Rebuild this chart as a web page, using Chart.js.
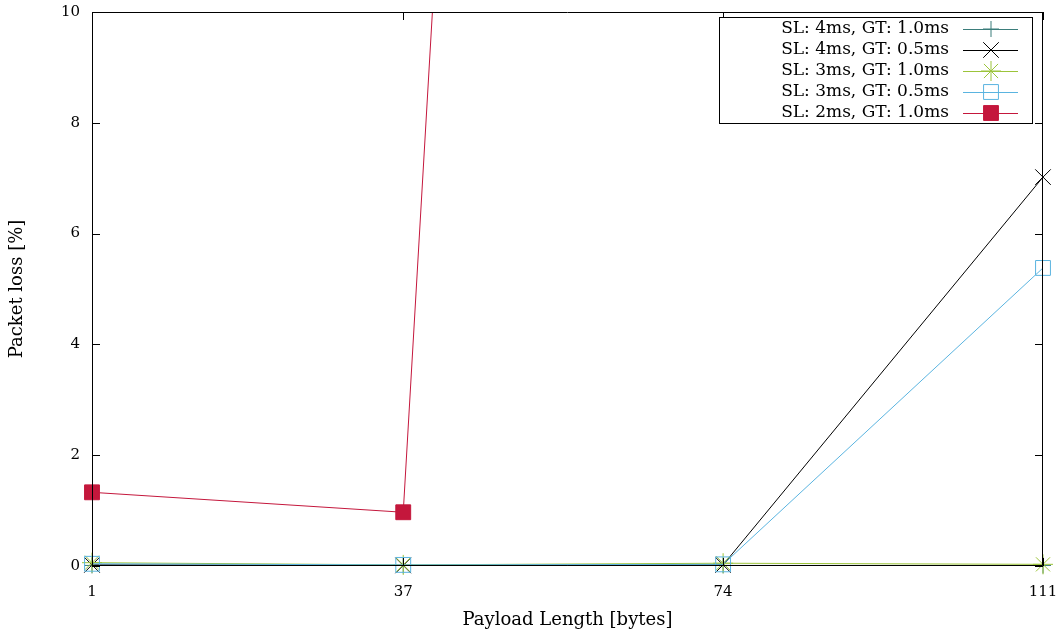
<!DOCTYPE html>
<html>
<head>
<meta charset="utf-8">
<script src="https://cdn.jsdelivr.net/npm/chart.js@4/dist/chart.umd.min.js"></script>
<style>
  html, body { margin: 0; padding: 0; background: #fff; }
  #wrap { width: 1062px; height: 634px; }
</style>
</head>
<body>
<div id="wrap"><canvas id="lossChart" width="1062" height="634"></canvas></div>
<script>
// payload lengths on the x axis
const payload = [1, 37, 74, 111];
const yTicks = [0, 2, 4, 6, 8, 10];

// packet loss [%] per configuration
const sl4gt10 = [0.01, 0.01, 0.01, 0.01];
const sl4gt05 = [0.02, 0.01, 0.02, 7.02];
const sl3gt10 = [0.06, 0.02, 0.05, 0.03];
const sl3gt05 = [0.04, 0.02, 0.03, 5.38];
const sl2gt10 = [1.33, 0.97, 100, 100];

const labels = [
    'SL: 4ms, GT: 1.0ms',
    'SL: 4ms, GT: 0.5ms',
    'SL: 3ms, GT: 1.0ms',
    'SL: 3ms, GT: 0.5ms',
    'SL: 2ms, GT: 1.0ms'
];

const serif = '"DejaVu Serif", "Liberation Serif", serif';

function pts(values) {
    return payload.map((x, i) => ({ x: x, y: values[i] }));
}

function series(label, values, color, style, radius, fill, order) {
    return {
        label: label,
        data: pts(values),
        borderColor: color,
        borderWidth: 1,
        pointStyle: style,
        pointRadius: radius,
        pointBorderColor: color,
        pointBackgroundColor: fill,
        pointBorderWidth: 1,
        order: order,
        // let markers spill over the frame, but cut the line at the top
        clip: { left: 15, right: 15, top: 0, bottom: 15 }
    };
}

// gnuplot-like frame with inward ticks on all four sides
const framePlugin = {
    id: 'frame',
    afterDatasetsDraw(chart) {
        const { ctx, chartArea: a, scales } = chart;
        ctx.save();
        ctx.strokeStyle = '#000';
        ctx.lineWidth = 1;
        ctx.beginPath();
        ctx.rect(a.left + 0.5, a.top + 0.5, a.right - a.left - 1, a.bottom - a.top - 1);
        ctx.stroke();
        ctx.beginPath();
        const t = 8;
        yTicks.forEach(v => {
            const y = Math.round(scales.y.getPixelForValue(v)) + 0.5;
            ctx.moveTo(a.left, y); ctx.lineTo(a.left + t, y);
            ctx.moveTo(a.right, y); ctx.lineTo(a.right - t, y);
        });
        payload.forEach(v => {
            const x = Math.round(scales.x.getPixelForValue(v)) + 0.5;
            ctx.moveTo(x, a.bottom); ctx.lineTo(x, a.bottom - t);
            ctx.moveTo(x, a.top); ctx.lineTo(x, a.top + t);
        });
        ctx.stroke();
        ctx.restore();
    },
    afterDraw(chart) {
        // key box, text right aligned with sample on the right
        const { ctx, chartArea: a } = chart;
        const boxR = a.right - 11, boxL = boxR - 313;
        const boxT = a.top + 5, rowH = 21;
        const n = chart.data.datasets.length;
        ctx.save();
        ctx.fillStyle = '#fff';
        ctx.fillRect(boxL, boxT, boxR - boxL, n * rowH + 1);
        ctx.strokeStyle = '#000';
        ctx.lineWidth = 1;
        ctx.strokeRect(boxL + 0.5, boxT + 0.5, boxR - boxL, n * rowH + 1);
        ctx.font = '17px ' + serif;
        ctx.textAlign = 'right';
        ctx.textBaseline = 'middle';
        chart.data.datasets.forEach((ds, i) => {
            const y = boxT + 12 + i * rowH;
            ctx.fillStyle = '#000';
            ctx.fillText(ds.label, boxR - 83, y);
            ctx.strokeStyle = ds.borderColor;
            ctx.lineWidth = 1;
            ctx.beginPath();
            ctx.moveTo(boxR - 69, y + 0.5);
            ctx.lineTo(boxR - 14, y + 0.5);
            ctx.stroke();
            ctx.fillStyle = ds.pointBackgroundColor;
            ctx.strokeStyle = ds.pointBorderColor;
            Chart.helpers.drawPoint(ctx, {
                pointStyle: ds.pointStyle,
                radius: ds.pointRadius,
                borderWidth: 1,
                rotation: 0
            }, boxR - 41, y);
        });
        ctx.restore();
    }
};

new Chart(document.getElementById('lossChart').getContext('2d'), {
    type: 'line',
    data: {
        datasets: [
            series(labels[0], sl4gt10, '#3b7d7b', 'cross', 8, 'rgba(0,0,0,0)', 5),
            series(labels[1], sl4gt05, '#000000', 'crossRot', 11, 'rgba(0,0,0,0)', 4),
            series(labels[2], sl3gt10, '#9cc43a', 'star', 10, 'rgba(0,0,0,0)', 3),
            series(labels[3], sl3gt05, '#5ab4e0', 'rect', 10.5, 'rgba(0,0,0,0)', 2),
            series(labels[4], sl2gt10, '#c4173c', 'rect', 10.5, '#c4173c', 1)
        ]
    },
    options: {
        responsive: false,
        animation: false,
        layout: { padding: { top: 8, right: 19, left: 0, bottom: 0 } },
        plugins: {
            legend: { display: false },
            tooltip: { enabled: false }
        },
        scales: {
            x: {
                type: 'linear',
                min: 1,
                max: 111,
                afterBuildTicks: scale => { scale.ticks = payload.map(v => ({ value: v })); },
                afterFit: scale => {
                    scale.height = 68;
                    scale.paddingLeft = 0;
                    scale.paddingRight = 0;
                },
                grid: { display: false, drawTicks: false },
                border: { display: false },
                ticks: {
                    autoSkip: false,
                    maxRotation: 0,
                    padding: 17,
                    color: '#000',
                    font: { family: serif, size: 15 }
                },
                title: {
                    display: true,
                    text: 'Payload Length [bytes]',
                    color: '#000',
                    font: { family: serif, size: 18 },
                    padding: { top: 4, bottom: 3 }
                }
            },
            y: {
                min: 0,
                max: 10,
                afterBuildTicks: scale => { scale.ticks = yTicks.map(v => ({ value: v })); },
                afterFit: scale => {
                    scale.width = 92;
                    scale.paddingTop = 0;
                    scale.paddingBottom = 0;
                },
                grid: { display: false, drawTicks: false },
                border: { display: false },
                ticks: {
                    padding: 12,
                    color: '#000',
                    font: { family: serif, size: 15 }
                },
                title: {
                    display: true,
                    text: 'Packet loss [%]',
                    color: '#000',
                    font: { family: serif, size: 18 },
                    padding: { top: 7, bottom: 4 }
                }
            }
        }
    },
    plugins: [framePlugin]
});
</script>
</body>
</html>
